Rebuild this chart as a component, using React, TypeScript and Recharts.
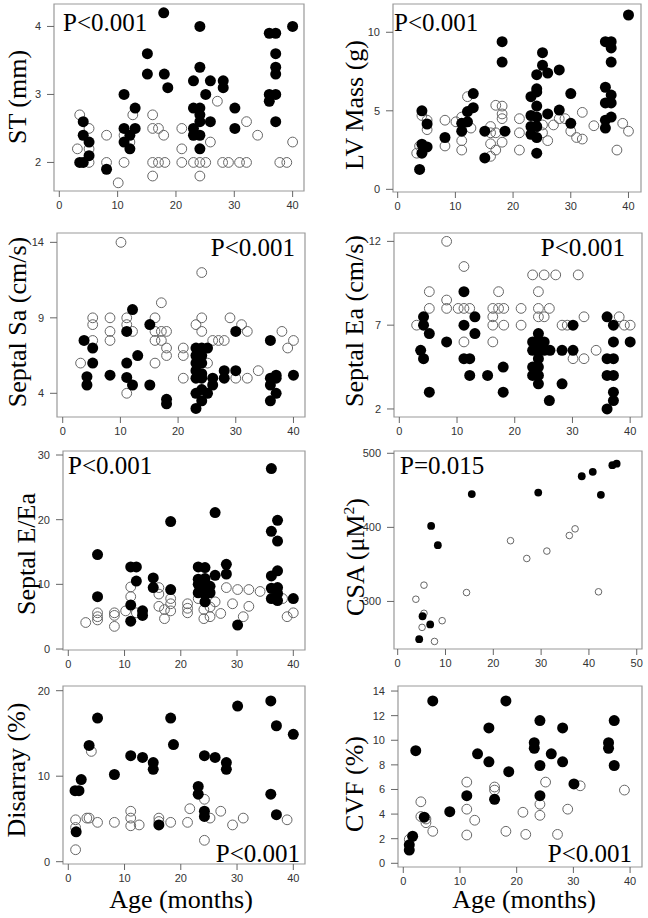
import React from "react";
import { ScatterChart, Scatter, XAxis, YAxis, ReferenceArea } from "recharts";

type Pt = [number, number];

// tick labels
const ageTicks = [0, 10, 20, 30, 40];
const csaAgeTicks = [0, 10, 20, 30, 40, 50];
const stTicks = [2, 3, 4];
const lvTicks = [0, 5, 10];
const saTicks = [4, 9, 14];
const eaTicks = [2, 7, 12];
const eeaTicks = [0, 10, 20, 30];
const csaTicks = [300, 400, 500];
const disTicks = [0, 10, 20];
const cvfTicks = [0, 2, 4, 6, 8, 10, 12, 14];

// ST (mm)
const stFilled: Pt[] = [
  [3.5, 2.0], [4.1, 2.0], [4.1, 2.6], [4.1, 2.4], [5.1, 2.3], [5.1, 2.1], [8.1, 1.9],
  [11.1, 3.0], [11.1, 2.5], [11.1, 2.3], [12.1, 2.4], [12.1, 2.2], [13, 2.8], [13, 2.5],
  [15.1, 3.6], [15.1, 3.3], [17.9, 4.2], [18, 3.3], [18.6, 3.1], [23, 3.2], [23, 2.8],
  [23, 2.5], [23, 2.4], [24.1, 4.0], [24.1, 3.4], [24.1, 2.8], [24.1, 2.7], [24.1, 2.6],
  [24.1, 2.4], [24.1, 2.2], [25.1, 3.0], [25.9, 3.2], [25.9, 2.6], [28.1, 3.2], [28.1, 3.1],
  [30.1, 2.8], [30.1, 2.5], [36, 3.9], [36, 3.0], [36, 2.9], [37.1, 3.9], [37.1, 3.6],
  [37.1, 3.4], [37.1, 3.3], [37.1, 3.0], [37.1, 2.6], [40, 4.0],
];
const stOpen: Pt[] = [
  [3.1, 2.2], [3.5, 2.7], [5.1, 2.5], [5.1, 2.2], [5.1, 2.0], [8.1, 2.4], [8.1, 2.0],
  [10.1, 1.7], [11.1, 2.4], [11.1, 2.0], [12.6, 2.7], [12.1, 2.3], [16, 2.7], [16, 2.5],
  [17, 2.5], [17.9, 2.4], [16, 2.0], [17, 2.0], [18.1, 2.0], [16, 1.8], [21, 2.5], [21, 2.2],
  [21, 2.0], [23, 2.0], [24.1, 2.0], [25.1, 2.0], [24.1, 1.8], [25.9, 2.3], [27.1, 2.9],
  [28, 2.0], [29, 2.0], [30.9, 2.0], [32.1, 2.0], [32.1, 2.6], [34, 2.4], [37.8, 2.0],
  [39, 2.0], [40, 2.3],
];

// LV Mass (g)
const lvFilled: Pt[] = [
  [3.8, 1.27], [4.2, 5.0], [4.2, 2.87], [4.2, 2.3], [5.1, 4.16], [5.1, 2.7], [8.2, 3.3],
  [11.1, 4.2], [11.1, 3.7], [12.1, 4.3], [12.1, 4.95], [13.1, 5.2], [13.1, 6.1], [15.1, 3.7],
  [15.1, 2.0], [18.1, 9.4], [18.1, 8.1], [18.6, 3.7], [23.1, 5.9], [23.1, 4.7], [23.1, 4.0],
  [23.1, 3.5], [24.1, 7.3], [24.1, 6.4], [24.1, 6.2], [24.1, 5.3], [24.1, 4.6], [24.1, 4.0],
  [24.1, 3.3], [24.1, 2.3], [25.1, 8.7], [25.1, 7.9], [26, 7.4], [26, 4.8], [28, 7.6],
  [28, 5.05], [30, 6.1], [30, 4.2], [36, 9.4], [36, 6.5], [36, 5.5], [36, 4.4], [36, 3.9],
  [37, 9.4], [37, 9.0], [37, 8.1], [37, 6.0], [37, 5.5], [37, 4.6], [40, 11.1],
];
const lvOpen: Pt[] = [
  [3.3, 2.3], [3.8, 2.76], [4.2, 4.7], [5.1, 4.4], [5.1, 3.8], [8.2, 4.4], [8.2, 2.76],
  [10.1, 4.3], [11.1, 4.6], [11.1, 3.1], [11.1, 2.5], [12.1, 5.9], [12.7, 3.9], [16.1, 4.0],
  [16.1, 3.6], [16.1, 2.9], [16.1, 2.1], [17, 5.35], [17, 3.6], [17, 2.5], [18.1, 5.3],
  [18.1, 4.8], [18.1, 4.5], [18.1, 3.0], [21.1, 4.5], [21.1, 3.6], [21.1, 2.5], [25.1, 4.1],
  [25.1, 3.6], [26, 3.1], [27, 4.1], [28, 4.5], [29, 4.5], [30, 3.7], [31, 3.3], [32, 4.9],
  [32, 3.2], [34, 4.05], [38, 2.5], [39, 4.2], [40, 3.7],
];

// Septal Sa (cm/s)
const saFilled: Pt[] = [
  [3.7, 7.5], [4.2, 5.1], [4.2, 4.55], [5.2, 7.0], [5.2, 6.0], [8.2, 5.2], [11.1, 8.1],
  [11.1, 6.0], [11.1, 5.05], [12.1, 4.55], [12.1, 9.55], [13, 6.5], [15.1, 8.55], [15.1, 4.55],
  [18, 3.6], [18, 3.3], [23.1, 3.0], [23.1, 7.0], [23.1, 6.5], [23.1, 6.0], [23.1, 5.5],
  [23.1, 5.0], [23.1, 4.0], [24.1, 7.0], [24.1, 6.5], [24.1, 6.0], [24.1, 5.3], [24.1, 5.0],
  [24.1, 4.25], [24.1, 3.5], [25.1, 7.0], [25.1, 4.0], [26, 5.0], [26, 4.55], [28, 5.5],
  [28, 5.0], [30, 5.5], [30, 8.1], [36, 7.5], [36, 5.0], [36, 4.55], [36, 3.5], [37, 5.2],
  [37, 5.0], [37, 4.0], [40, 5.2],
];
const saOpen: Pt[] = [
  [3.1, 6.0], [5.2, 9.0], [5.2, 8.55], [5.2, 7.5], [8.2, 9.0], [8.2, 8.1], [8.2, 7.5],
  [10.1, 14.0], [11.1, 9.0], [11.1, 8.55], [11.1, 4.0], [12.1, 8.1], [16, 9.0], [16, 8.1],
  [16, 7.5], [16, 6.0], [17.1, 10.0], [17.1, 8.1], [17.1, 7.5], [18, 8.1], [18, 7.0], [18, 6.5],
  [20.9, 7.0], [20.9, 6.5], [20.9, 5.0], [23.1, 8.55], [24.1, 12.0], [24.1, 9.0], [24.1, 8.1],
  [25.1, 6.0], [26, 7.5], [27, 7.5], [28, 7.5], [29, 9.0], [30, 5.0], [31, 8.55], [32, 8.1],
  [32, 5.0], [33.9, 5.5], [38, 8.1], [39, 7.0], [40, 7.5],
];

// Septal Ea (cm/s)
const eaFilled: Pt[] = [
  [4.2, 7.5], [4.2, 7.0], [3.7, 5.5], [4.2, 5.0], [5.2, 6.5], [5.2, 3.0], [8.2, 6.0],
  [11.2, 9.0], [11.2, 7.0], [11.2, 5.0], [12.2, 5.0], [12.2, 4.0], [13.1, 7.5], [13.1, 6.5],
  [15.3, 4.0], [18, 4.5], [18, 3.0], [23.1, 6.0], [23.1, 5.5], [23.1, 4.5], [23.1, 4.0],
  [24.1, 6.5], [24.1, 6.0], [24.1, 5.5], [24.1, 5.0], [24.1, 4.5], [24.1, 4.0], [24.1, 3.5],
  [25.1, 6.0], [25.1, 5.5], [26.1, 5.5], [26, 2.5], [28.2, 5.5], [28.2, 3.5], [30.1, 7.0],
  [30.1, 5.5], [36, 7.5], [36, 5.0], [36, 4.0], [36, 2.0], [37.1, 7.0], [37.1, 6.0],
  [37.1, 5.0], [37.1, 4.0], [37.1, 3.0], [37.1, 2.5], [40, 6.0],
];
const eaOpen: Pt[] = [
  [3.0, 7.0], [5.2, 9.0], [5.2, 8.0], [8.2, 12.0], [8.2, 8.5], [8.2, 8.0], [10.2, 8.0],
  [11.2, 10.5], [11.2, 8.0], [11.2, 6.0], [12.2, 8.0], [17.2, 9.0], [16.2, 8.0], [17.2, 8.0],
  [18.1, 8.0], [16.2, 7.5], [16.2, 7.0], [16.2, 6.0], [18.1, 7.0], [21.1, 8.0], [21.1, 7.0],
  [23.1, 10.0], [25.1, 10.0], [27.1, 10.0], [31, 10.0], [24.1, 9.0], [24.1, 8.0], [24.1, 7.5],
  [25.1, 7.5], [26, 8.0], [28.2, 7.0], [29.1, 7.0], [30.1, 5.0], [32, 7.5], [32, 5.0],
  [34.1, 5.5], [38.1, 7.5], [39, 7.0], [40, 7.0],
];

// Septal E/Ea
const eeaFilled: Pt[] = [
  [5.2, 14.6], [5.2, 8.1], [11.1, 12.7], [11.1, 6.8], [11.1, 4.3], [12.1, 12.7], [12.1, 10.5],
  [13.2, 5.9], [13.2, 5.2], [15.1, 11.0], [15.1, 9.5], [18.2, 19.7], [18.2, 9.2], [23.1, 12.7],
  [23.1, 10.8], [23.1, 10.0], [23.1, 8.7], [24.3, 12.6], [24.3, 10.9], [24.3, 9.5], [24.3, 8.5],
  [24.3, 7.3], [25.2, 9.7], [25.2, 8.7], [26.1, 21.1], [26.1, 11.4], [28.1, 13.1], [28.1, 11.6],
  [30.1, 3.7], [36.1, 27.9], [36.1, 18.2], [36.1, 11.3], [36.1, 9.4], [36.1, 7.8], [37.2, 19.9],
  [37.2, 16.7], [37.2, 12.1], [37.2, 9.5], [37.2, 8.6], [37.2, 7.5], [40, 7.8],
];
const eeaOpen: Pt[] = [
  [3.1, 4.1], [5.2, 5.6], [5.2, 5.0], [5.2, 4.5], [8.2, 5.6], [8.2, 5.2], [8.2, 3.5],
  [10.2, 5.9], [11.1, 9.6], [11.1, 8.1], [12.1, 5.6], [16.1, 9.5], [16.1, 8.5], [16.1, 6.6],
  [17.1, 6.1], [17.1, 4.7], [18.2, 7.8], [18.2, 7.0], [18.2, 5.9], [21.2, 7.0], [21.2, 6.3],
  [21.2, 5.6], [23.1, 7.8], [24.1, 6.1], [24.1, 4.7], [25.2, 5.0], [25.2, 6.5], [26.1, 7.3],
  [27.1, 5.5], [28.1, 9.5], [29.2, 7.0], [30.1, 9.2], [31.1, 5.0], [32.1, 6.6], [32.1, 9.2],
  [34.1, 8.9], [38.1, 7.8], [38.9, 5.0], [40, 5.6],
];

// CSA (uM2)
const csaFilled: Pt[] = [
  [4.5, 249], [5.2, 280], [6.8, 269], [7.0, 402], [8.4, 376], [15.5, 445], [29.4, 447],
  [38.5, 469], [40.8, 475], [42.5, 444], [44.9, 484], [45.8, 486],
];
const csaOpen: Pt[] = [
  [3.8, 303], [5.5, 322], [5.5, 284], [5.1, 265], [7.7, 246], [9.3, 274], [14.4, 312],
  [23.6, 382], [27.0, 358], [31.2, 368], [35.9, 389], [37.1, 398], [42.0, 313],
];

// Disarray (%)
const disFilled: Pt[] = [
  [1.2, 8.3], [1.9, 8.3], [1.4, 3.5], [2.3, 9.6], [3.7, 13.6], [5.2, 16.8], [8.2, 10.2],
  [11.1, 12.4], [13.2, 12.2], [15.1, 11.6], [15.1, 10.8], [16.1, 4.3], [18.2, 16.8],
  [18.7, 13.7], [23.1, 8.8], [23.1, 7.9], [24.2, 12.4], [24.2, 5.9], [24.2, 5.3], [26.1, 12.2],
  [28.1, 11.6], [28.1, 10.8], [30.1, 18.2], [36, 18.8], [36, 7.9], [37, 15.9], [37, 5.5],
  [40, 14.9],
];
const disOpen: Pt[] = [
  [1.3, 4.9], [1.3, 4.0], [1.3, 1.4], [3.3, 5.1], [3.7, 5.1], [4.1, 12.9], [5.2, 4.6],
  [8.2, 4.6], [11.1, 5.9], [11.1, 5.1], [11.1, 4.2], [12.6, 4.3], [16.1, 5.1], [16.1, 4.7],
  [18.2, 4.6], [21.2, 4.6], [21.6, 6.2], [24.2, 7.3], [24.2, 2.5], [25.2, 5.1], [27.1, 5.9],
  [29.2, 4.3], [31.1, 5.1], [38.9, 4.9],
];

// CVF (%)
const cvfFilled: Pt[] = [
  [1.06, 1.08], [1.06, 1.5], [1.65, 2.2], [2.2, 9.15], [3.7, 3.75], [5.2, 13.2], [8.2, 4.2],
  [11.2, 5.5], [13.1, 8.9], [15.1, 11.0], [15.1, 8.25], [16.1, 5.2], [18.1, 13.2], [18.6, 7.45],
  [23.1, 9.8], [23.1, 9.35], [24.1, 11.6], [24.1, 7.95], [24.1, 5.5], [26.1, 8.9], [28.1, 11.0],
  [28.1, 8.25], [30.1, 6.45], [36.2, 9.8], [36.2, 9.35], [37.2, 11.6], [37.2, 7.95],
];
const cvfOpen: Pt[] = [
  [1.06, 1.95], [3.1, 5.0], [3.1, 3.8], [4.0, 3.6], [4.0, 3.3], [5.2, 2.6], [11.2, 6.6],
  [11.2, 4.4], [11.2, 2.3], [12.6, 3.5], [16.1, 6.2], [16.1, 5.95], [18.1, 2.6], [21.1, 4.15],
  [21.6, 2.35], [24.1, 4.8], [24.1, 3.9], [25.1, 6.6], [27.2, 2.35], [29.0, 4.4], [31.2, 6.3],
  [39.0, 5.95],
];

const serif = '"Liberation Serif", "Times New Roman", serif';
const sans = '"Liberation Sans", Arial, sans-serif';
const YW = 40;
const XH = 30;

interface PanelProps {
  left: number;
  top: number;
  w: number;
  h: number;
  xDomain: [number, number];
  yDomain: [number, number];
  xTicks: number[];
  yTicks: number[];
  filled: Pt[];
  open: Pt[];
  r?: number;
}

function Panel({ left, top, w, h, xDomain, yDomain, xTicks, yTicks, filled, open, r = 5.5 }: PanelProps) {
  const toObj = (arr: Pt[]) => arr.map(([x, y]) => ({ x, y }));
  const tick = { fontSize: 11, fill: "#333", fontFamily: sans };
  return (
    <div style={{ position: "absolute", left: left - YW, top: top - 4 }}>
      <ScatterChart width={w + YW + 6} height={h + XH + 4} margin={{ top: 4, right: 6, bottom: 0, left: 0 }}>
        <XAxis
          type="number"
          dataKey="x"
          domain={xDomain}
          ticks={xTicks}
          allowDataOverflow
          height={XH}
          axisLine={false}
          tickLine={{ stroke: "#666" }}
          tickSize={6}
          tickMargin={4}
          tick={tick}
        />
        <YAxis
          type="number"
          dataKey="y"
          domain={yDomain}
          ticks={yTicks}
          allowDataOverflow
          width={YW}
          axisLine={false}
          tickLine={{ stroke: "#666" }}
          tickSize={7}
          tickMargin={6}
          tick={tick}
        />
        <ReferenceArea
          x1={xDomain[0]}
          x2={xDomain[1]}
          y1={yDomain[0]}
          y2={yDomain[1]}
          fill="none"
          stroke="#999"
          strokeWidth={1.2}
          ifOverflow="visible"
        />
        <Scatter
          data={toObj(open)}
          isAnimationActive={false}
          shape={(p: any) => <circle cx={p.cx} cy={p.cy} r={r - 0.6} fill="none" stroke="#666" strokeWidth={1} />}
        />
        <Scatter
          data={toObj(filled)}
          isAnimationActive={false}
          shape={(p: any) => <circle cx={p.cx} cy={p.cy} r={r} fill="#000" />}
        />
      </ScatterChart>
    </div>
  );
}

function YLabel({ x, y, children }: { x: number; y: number; children: React.ReactNode }) {
  return (
    <div
      style={{
        position: "absolute",
        left: x,
        top: y,
        transform: "translate(-50%, -50%) rotate(-90deg)",
        fontFamily: serif,
        fontSize: 26,
        lineHeight: 1,
        whiteSpace: "nowrap",
        color: "#000",
      }}
    >
      {children}
    </div>
  );
}

function PText({ x, y, right, text }: { x: number; y: number; right?: boolean; text: string }) {
  return (
    <div
      style={{
        position: "absolute",
        left: x,
        top: y,
        transform: right ? "translate(-100%, -50%)" : "translate(0, -50%)",
        fontFamily: serif,
        fontSize: 25,
        lineHeight: 1,
        whiteSpace: "nowrap",
        color: "#000",
      }}
    >
      {text}
    </div>
  );
}

export default function App() {
  return (
    <div style={{ position: "absolute", left: 0, top: 0, width: 648, height: 918, background: "#fff", overflow: "hidden" }}>
      <Panel left={54} top={4} w={250} h={187} xDomain={[-0.91, 41.95]} yDomain={[1.58, 4.33]} xTicks={ageTicks} yTicks={stTicks} filled={stFilled} open={stOpen} />
      <Panel left={393} top={4} w={248} h={188} xDomain={[-0.81, 42.17]} yDomain={[-0.17, 11.8]} xTicks={ageTicks} yTicks={lvTicks} filled={lvFilled} open={lvOpen} />
      <Panel left={57} top={233} w={248} h={184} xDomain={[-0.99, 42.0]} yDomain={[2.43, 14.62]} xTicks={ageTicks} yTicks={saTicks} filled={saFilled} open={saOpen} />
      <Panel left={394} top={233} w={248} h={184} xDomain={[-0.92, 42.05]} yDomain={[1.52, 12.5]} xTicks={ageTicks} yTicks={eaTicks} filled={eaFilled} open={eaOpen} />
      <Panel left={63} top={451} w={242} h={199} xDomain={[-0.94, 42.08]} yDomain={[-0.15, 30.62]} xTicks={ageTicks} yTicks={eeaTicks} filled={eeaFilled} open={eeaOpen} />
      <Panel left={394} top={451} w={248} h={198} xDomain={[-0.77, 51.1]} yDomain={[235.8, 503.1]} xTicks={csaAgeTicks} yTicks={csaTicks} filled={csaFilled} open={csaOpen} r={3.9} />
      <Panel left={63} top={686} w={242} h={178} xDomain={[-0.94, 42.08]} yDomain={[-0.27, 20.55]} xTicks={ageTicks} yTicks={disTicks} filled={disFilled} open={disOpen} />
      <Panel left={398} top={686} w={244} h={181} xDomain={[-0.93, 42.1]} yDomain={[-0.3, 14.41]} xTicks={ageTicks} yTicks={cvfTicks} filled={cvfFilled} open={cvfOpen} />

      <YLabel x={18} y={97}>ST (mm)</YLabel>
      <YLabel x={355} y={105}>LV Mass (g)</YLabel>
      <YLabel x={18} y={322}>Septal Sa (cm/s)</YLabel>
      <YLabel x={355} y={321}>Septal Ea (cm/s)</YLabel>
      <YLabel x={27} y={554}>Septal E/Ea</YLabel>
      <YLabel x={355} y={557}>
        CSA (μM<sup style={{ fontSize: "0.6em" }}>2</sup>)
      </YLabel>
      <YLabel x={17} y={770}>Disarray (%)</YLabel>
      <YLabel x={355} y={784}>CVF (%)</YLabel>

      <PText x={63} y={22} text="P<0.001" />
      <PText x={394} y={22} text="P<0.001" />
      <PText x={295} y={247} right text="P<0.001" />
      <PText x={625} y={247} right text="P<0.001" />
      <PText x={68} y={465} text="P<0.001" />
      <PText x={400} y={465} text="P=0.015" />
      <PText x={300} y={853} right text="P<0.001" />
      <PText x={632} y={853} right text="P<0.001" />

      <div style={{ position: "absolute", left: 181, top: 900, transform: "translate(-50%, -50%)", fontFamily: serif, fontSize: 26, lineHeight: 1, whiteSpace: "nowrap" }}>
        Age (months)
      </div>
      <div style={{ position: "absolute", left: 524, top: 900, transform: "translate(-50%, -50%)", fontFamily: serif, fontSize: 26, lineHeight: 1, whiteSpace: "nowrap" }}>
        Age (months)
      </div>
    </div>
  );
}
